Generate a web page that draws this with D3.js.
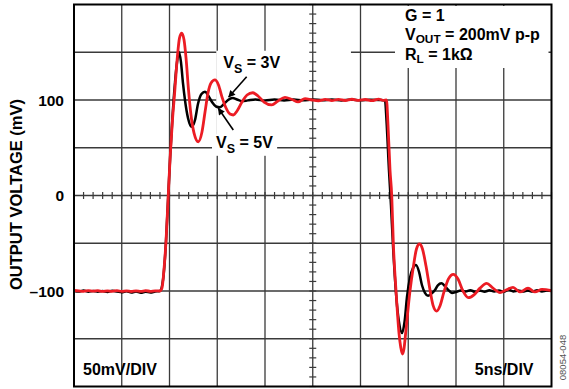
<!DOCTYPE html>
<html>
<head>
<meta charset="utf-8">
<script src="https://cdn.jsdelivr.net/npm/d3@7"></script>
<style>
  html, body { margin: 0; padding: 0; background: #fff; }
  svg { display: block; }
  text { font-family: "Liberation Sans", Arial, Helvetica, sans-serif; font-weight: bold; fill: #000; }
</style>
</head>
<body>
<svg id="chart" width="569" height="389"></svg>
<script>
// Step response, 5 ns/div horizontal, 50 mV/div vertical.
// Each series is [time (ns), output (mV)].
const seriesVs5 = [
  [0,-100],[0.5,-100.6],[1,-99.6],[1.5,-100.8],[2,-99.9],[2.5,-100.7],[3,-100.1],[3.5,-101],
  [4,-99.7],[4.5,-100.5],[5,-101.3],[5.5,-100.3],[6,-101.6],[6.5,-100.6],[7,-101.8],[7.5,-100.8],
  [8,-101.5],[8.5,-100.6],[9,-100],[9.32,-88.5],[9.63,-48.7],[9.87,0],[10.08,42.4],[10.31,82.2],
  [10.58,118.8],[10.79,139.8],[11.0,150.3],[11.2,139.8],[11.41,117.8],[11.62,100],[11.94,81],
  [12.32,72],[12.67,79],[12.98,95.8],[13.35,106.3],[13.72,108.7],[14.08,104.2],[14.45,97.9],
  [14.87,93.2],[15.29,92.4],[15.71,95.8],[16.13,100],[16.62,102],[17.07,100.5],[17.6,98.8],
  [18.2,99.6],[19,100.6],[20,99.5],[21,100.4],[22,99.6],[23,100.5],[24,99.7],[25,100.5],
  [26,99.8],[27,100.4],[28,99.5],[29,100.4],[30,99.7],[31,100.3],[32,100],[32.57,99.5],
  [32.72,79],[32.98,26.7],[33.19,-10],[33.4,-51.8],[33.77,-109],[34.03,-132.5],[34.35,-144],
  [34.61,-132.5],[34.87,-106],[35.18,-86],[35.5,-76],[35.81,-72.8],[36.13,-80],[36.44,-94],
  [36.75,-102],[37.07,-105],[37.4,-103],[37.8,-99],[38.1,-94],[38.48,-92],[38.8,-94.5],
  [39.16,-98.5],[39.58,-102],[40,-101],[40.5,-99.4],[41,-100.6],[41.5,-99.2],[42,-100.8],
  [42.5,-99.5],[43,-100.7],[43.5,-99.3],[44,-100.5],[44.5,-99.6],[45,-100.8],[45.5,-98.5],
  [46,-100.4],[46.5,-99.5],[47,-100.6],[47.5,-99.4],[48,-100.5],[48.5,-99.3],[49,-100.4],
  [49.5,-99.6],[50,-100]
];

const seriesVs3 = [
  [0,-99.5],[0.5,-99.8],[1,-100.3],[1.5,-99.6],[2,-100.2],[2.5,-99.7],[3,-100.4],[3.5,-99.8],
  [4,-100.3],[4.5,-99.6],[5,-100.4],[5.5,-99.8],[6,-100.5],[6.5,-99.9],[7,-100.4],[7.5,-99.7],
  [8,-100.3],[8.5,-99.8],[9,-100],[9.21,-97],[9.42,-78],[9.63,-48.7],[9.87,0],[10.08,42.4],
  [10.31,79],[10.52,105],[10.84,147],[11.05,165],[11.28,170],[11.52,163],[11.73,144],
  [11.99,110.5],[12.25,84.3],[12.57,65.4],[13.02,56.3],[13.4,66.5],[13.72,87.4],[14.03,107.3],
  [14.35,117.8],[14.76,121],[15.13,115.7],[15.5,103],[15.92,91.6],[16.34,85.3],[16.68,84.3],
  [17.07,88.5],[17.59,97.9],[18.12,105.2],[18.71,107.6],[19.27,104.2],[19.9,97.9],[20.7,94.8],
  [21.36,99],[22.09,102.8],[22.83,100.5],[23.46,98],[24.19,101.5],[24.92,100],[25.6,99.2],
  [26.3,100.7],[27,99.4],[27.7,100.6],[28.4,99.5],[29.1,100.8],[29.8,99.6],[30.5,100.5],
  [31.2,99.3],[31.9,100.9],[32.4,99.6],[32.72,100],[32.88,73.8],[33.09,26.7],[33.27,0],
  [33.44,-50.8],[33.72,-100],[34.03,-144],[34.21,-158.6],[34.38,-166],[34.55,-160.7],
  [34.73,-144],[35.18,-100],[35.53,-74.9],[35.86,-56],[36.18,-50.8],[36.49,-56],[36.86,-73.8],
  [37.28,-99],[37.59,-114.7],[37.98,-121],[38.32,-115.7],[38.74,-101],[39.21,-87.4],
  [39.72,-82.5],[40.21,-87.4],[40.73,-100],[41.29,-107],[41.88,-104],[42.51,-97],[43.21,-92],
  [43.87,-97],[44.61,-101.6],[45.24,-99],[45.97,-96.1],[46.7,-101],[47.54,-97],[48.27,-101],
  [49,-98.4],[50,-99.5]
];

// Graticule and labels
const timeDomain = [0, 50];
const voltDomain = [-200, 200];
const timeDivisions = d3.range(0, 51, 5);
const voltDivisions = d3.range(-200, 201, 50);
const voltTicks = [100, 0, -100];
const voltTickLabels = ["100", "0", "\u2013100"];
const yTitle = "OUTPUT VOLTAGE (mV)";
const setupLines = [
  [{t: "G = 1"}],
  [{t: "V"}, {t: "OUT", sub: true}, {t: " = 200mV p-p"}],
  [{t: "R"}, {t: "L", sub: true}, {t: " = 1k\u03A9"}]
];
const traceLabels = [
  {name: "vs3", parts: [{t: "V"}, {t: "S", sub: true}, {t: " = 3V"}], at: [15.63, 133.2],
   arrow: [[18.08, 124.4], [16.2, 103.1]]},
  {name: "vs5", parts: [{t: "V"}, {t: "S", sub: true}, {t: " = 5V"}], at: [14.87, 49.4],
   arrow: [[16.68, 68.6], [15.11, 91.3]]}
];
const scaleLabels = ["50mV/DIV", "5ns/DIV"];
const figureId = "08054-048";

const svg = d3.select("#chart");
const plot = {left: 74, right: 551.5, top: 4.5, bottom: 386.5};

const x = d3.scaleLinear().domain(timeDomain).range([plot.left, plot.right]);
const y = d3.scaleLinear().domain(voltDomain).range([plot.bottom, plot.top]);

const gridColor = "#3a3a3a";
const g = svg.append("g");

// major divisions (centre cross is drawn later, above the callout panel)
g.selectAll("line.vgrid").data(timeDivisions.slice(1, -1).filter(d => d !== 25)).join("line")
  .attr("x1", d => x(d)).attr("x2", d => x(d))
  .attr("y1", plot.top).attr("y2", plot.bottom)
  .attr("stroke", gridColor).attr("stroke-width", 1.3);
g.selectAll("line.hgrid").data(voltDivisions.slice(1, -1).filter(d => d !== 0)).join("line")
  .attr("x1", plot.left).attr("x2", plot.right)
  .attr("y1", d => y(d)).attr("y2", d => y(d))
  .attr("stroke", gridColor).attr("stroke-width", 1.3);

// white callout panel that holds the supply-voltage labels
g.append("rect")
  .attr("x", x(15) - 1).attr("y", y(150) - 1.5)
  .attr("width", x(29) - x(15) + 1).attr("height", y(50) - y(150) - 0.5)
  .attr("fill", "#fff");

// centre cross with minor ticks
g.append("line").attr("x1", x(25)).attr("x2", x(25)).attr("y1", plot.top).attr("y2", plot.bottom)
  .attr("stroke", gridColor).attr("stroke-width", 1.3);
g.append("line").attr("x1", plot.left).attr("x2", plot.right).attr("y1", y(0)).attr("y2", y(0))
  .attr("stroke", gridColor).attr("stroke-width", 1.3);
const minorT = d3.range(0, 50.01, 1);
const minorV = d3.range(-200, 200.01, 10);
g.selectAll("line.tt").data(minorT).join("line")
  .attr("x1", d => x(d)).attr("x2", d => x(d))
  .attr("y1", y(0) - 3.5).attr("y2", y(0) + 3.5)
  .attr("stroke", gridColor).attr("stroke-width", 1.2);
g.selectAll("line.vt").data(minorV).join("line")
  .attr("x1", x(25) - 3.5).attr("x2", x(25) + 3.5)
  .attr("y1", d => y(d)).attr("y2", d => y(d))
  .attr("stroke", gridColor).attr("stroke-width", 1.2);

// text with subscripts: each subscript drops, the following run returns to the baseline
function richText(sel, parts, size, subScale, drop) {
  let shifted = 0;
  parts.forEach(p => {
    const ts = sel.append("tspan").text(p.t);
    if (p.sub) {
      const d = size * drop;
      ts.attr("font-size", size * subScale).attr("dy", d);
      shifted += d;
    } else {
      ts.attr("font-size", size);
      if (shifted) { ts.attr("dy", -shifted); shifted = 0; }
    }
  });
  return sel;
}

// white panel behind the setup conditions
const infoSize = 16;
const info = svg.append("g");
const infoX = x(34.66);
const infoBase = [20.5, 40, 59.5];
setupLines.forEach((parts, i) => {
  const t = info.append("text").attr("x", infoX).attr("y", infoBase[i]);
  richText(t, parts, infoSize, 0.74, 0.2);
});
info.insert("rect", ":first-child")
  .attr("x", infoX - 10).attr("y", plot.top + 1.5)
  .attr("width", plot.right - 3 - (infoX - 10))
  .attr("height", infoBase[2] + 7 - plot.top)
  .attr("fill", "#fff");

// traces
const line = d3.line().x(d => x(d[0])).y(d => y(d[1])).curve(d3.curveMonotoneX);
svg.append("path").datum(seriesVs5).attr("d", line)
  .attr("fill", "none").attr("stroke", "#000").attr("stroke-width", 2.5).attr("stroke-linejoin", "round");
svg.append("path").datum(seriesVs3).attr("d", line)
  .attr("fill", "none").attr("stroke", "#ec1c24").attr("stroke-width", 2.8).attr("stroke-linejoin", "round");

// trace labels and arrows
svg.append("defs").append("marker")
  .attr("id", "head").attr("viewBox", "0 0 10 10").attr("refX", 9).attr("refY", 5)
  .attr("markerWidth", 8).attr("markerHeight", 7).attr("markerUnits", "userSpaceOnUse")
  .attr("orient", "auto")
  .append("path").attr("d", "M0,0 L10,5 L0,10 Z").attr("fill", "#000");

const labelSize = 16;
traceLabels.forEach(l => {
  const grp = svg.append("g");
  const t = grp.append("text").attr("x", x(l.at[0])).attr("y", y(l.at[1]));
  richText(t, l.parts, labelSize, 0.78, 0.28);
  const b = t.node().getBBox();
  grp.insert("rect", ":first-child")
    .attr("x", b.x - 4).attr("y", b.y).attr("width", b.width + 8).attr("height", b.height)
    .attr("fill", "#fff");
  svg.append("line")
    .attr("x1", x(l.arrow[0][0])).attr("y1", y(l.arrow[0][1]))
    .attr("x2", x(l.arrow[1][0])).attr("y2", y(l.arrow[1][1]))
    .attr("stroke", "#000").attr("stroke-width", 1.6).attr("marker-end", "url(#head)");
});

// frame
svg.append("rect").attr("x", plot.left).attr("y", plot.top)
  .attr("width", plot.right - plot.left).attr("height", plot.bottom - plot.top)
  .attr("fill", "none").attr("stroke", "#000").attr("stroke-width", 2);

// vertical axis labels
svg.selectAll("text.ytick").data(voltTicks).join("text")
  .attr("x", plot.left - 10).attr("y", d => y(d)).attr("dy", "0.36em")
  .attr("text-anchor", "end").attr("font-size", 15.5)
  .text((d, i) => voltTickLabels[i]);
svg.append("text")
  .attr("transform", `translate(22,${(plot.top + plot.bottom) / 2 - 1}) rotate(-90)`)
  .attr("text-anchor", "middle").attr("font-size", 16.5).text(yTitle);

// scale annotations
svg.append("text").attr("x", plot.left + 9).attr("y", 375).attr("font-size", 16).text(scaleLabels[0]);
svg.append("text").attr("x", plot.right - 18).attr("y", 375).attr("text-anchor", "end")
  .attr("font-size", 16).text(scaleLabels[1]);

// figure id
svg.append("text")
  .attr("transform", `translate(566,${plot.bottom - 29}) rotate(-90)`)
  .attr("text-anchor", "middle").attr("font-size", 9.5)
  .style("font-weight", "normal").style("fill", "#555").text(figureId);
</script>
</body>
</html>
